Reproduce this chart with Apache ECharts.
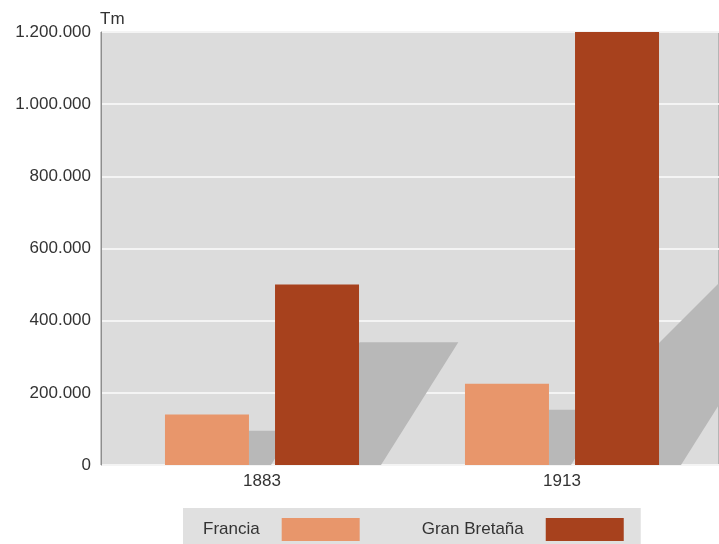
<!DOCTYPE html>
<html>
<head>
<meta charset="utf-8">
<script src="https://cdn.jsdelivr.net/npm/echarts@6/dist/echarts.min.js"></script>
<style>
  html, body { margin: 0; padding: 0; background: #ffffff; }
  #chart { width: 719px; height: 544px; }
</style>
</head>
<body>
<div id="chart"></div>
<script>
// Producción en toneladas métricas (Tm)
const categories = ['1883', '1913'];
const seriesNames = ['Francia', 'Gran Bretaña'];
const francia = [140000, 225000];
const granBretana = [500000, 1200000];
const yMin = 0;
const yMax = 1200000;
const yStep = 200000;

const colors = ['#e8966b', '#a7411d'];
const FONT = '"Liberation Sans", Arial, sans-serif';
const TEXT = '#333333';

// Thousands separator with a dot
function fmt(v) {
  return String(v).replace(/\B(?=(\d{3})+(?!\d))/g, '.');
}

// Cast-shadow data: [category index, value, series index]
const shadowData = [];
[francia, granBretana].forEach((vals, s) => {
  vals.forEach((v, i) => shadowData.push([i, v, s]));
});

const BAR_W = 0.28;   // bar width as share of the category band
const BAR_GAP = 0.31; // gap between bars as share of bar width

// Slanted shadow falling to the right of each bar
const SHADOW_RATIO = 0.68; // shadow height relative to the bar
const SHADOW_SLANT = 0.63; // horizontal shift per pixel of height (outer edge)
const SHADOW_CUT = 1.0;    // horizontal shift per pixel of height (inner edge)
const SHADOW_FOOT = 22;    // width of the shadow at the floor
const SHADOW_WALL = 122;   // max height running straight up the bar side

function renderShadow(params, api) {
  const cat = api.value(0);
  const val = api.value(1);
  const s = api.value(2);
  const base = api.coord([cat, 0]);
  const top = api.coord([cat, val * SHADOW_RATIO]);
  const catW = api.size([1, 0])[0];
  const bw = catW * BAR_W;
  const gap = bw * BAR_GAP;
  const cx = base[0];
  const right = s === 0 ? cx - gap / 2 : cx + gap / 2 + bw;
  const hs = base[1] - top[1];
  const wall = Math.min(hs, SHADOW_WALL);
  return {
    type: 'polygon',
    shape: {
      points: [
        [right, base[1]],
        [right, base[1] - wall],
        [right + SHADOW_CUT * (hs - wall), top[1]],
        [right + SHADOW_FOOT + SHADOW_SLANT * hs, top[1]],
        [right + SHADOW_FOOT, base[1]]
      ]
    },
    style: { fill: '#b8b8b8' }
  };
}

const chart = echarts.init(document.getElementById('chart'), null, { renderer: 'canvas' });

chart.setOption({
  animation: false,
  backgroundColor: '#ffffff',
  textStyle: { fontFamily: FONT },
  grid: [
    {
      left: 101, right: -5, top: 32, bottom: 79,
      show: true, backgroundColor: '#dcdcdc',
      borderColor: '#8e8e8e', borderWidth: 1
    },
    { left: 112, width: 600, top: 32, bottom: 79 }
  ],
  xAxis: [
    { gridIndex: 0, type: 'value', min: 0, max: 1, show: false },
    {
      gridIndex: 1, type: 'category', data: categories,
      axisLine: { show: false }, axisTick: { show: false },
      axisLabel: { color: TEXT, fontSize: 17, fontFamily: FONT, margin: 8 }
    }
  ],
  yAxis: [
    {
      gridIndex: 0, type: 'value', min: yMin, max: yMax, interval: yStep,
      name: 'Tm', nameLocation: 'end', nameGap: 4,
      nameTextStyle: { color: TEXT, fontSize: 17, fontFamily: FONT, align: 'left', padding: [0, 0, 0, -1] },
      axisLine: { show: true, lineStyle: { color: '#8e8e8e', width: 1 } },
      axisTick: { show: false },
      axisLabel: { color: TEXT, fontSize: 17, fontFamily: FONT, margin: 10, formatter: fmt },
      splitLine: { show: true, lineStyle: { color: '#f4f4f4', width: 2 } }
    },
    {
      gridIndex: 1, type: 'value', min: yMin, max: yMax, interval: yStep,
      show: false, splitLine: { show: false }
    }
  ],
  legend: {
    data: seriesNames,
    left: 183, top: 508,
    align: 'right',
    icon: 'rect',
    itemWidth: 78, itemHeight: 23,
    itemGap: 62,
    padding: [10, 17, 12, 20],
    backgroundColor: '#e0e0e0',
    textStyle: { color: TEXT, fontSize: 17, fontFamily: FONT, padding: [0, 17, 0, 0] }
  },
  series: [
    {
      type: 'custom', name: 'sombra', xAxisIndex: 1, yAxisIndex: 1,
      data: shadowData, renderItem: renderShadow, clip: false, z: 1,
      silent: true, legendHoverLink: false
    },
    {
      name: seriesNames[0], type: 'bar', xAxisIndex: 1, yAxisIndex: 1,
      data: francia, barWidth: (BAR_W * 100) + '%', barGap: (BAR_GAP * 100) + '%',
      itemStyle: { color: colors[0] }, z: 2
    },
    {
      name: seriesNames[1], type: 'bar', xAxisIndex: 1, yAxisIndex: 1,
      data: granBretana, barWidth: (BAR_W * 100) + '%', barGap: (BAR_GAP * 100) + '%',
      itemStyle: { color: colors[1] }, z: 2
    }
  ]
});
</script>
</body>
</html>
